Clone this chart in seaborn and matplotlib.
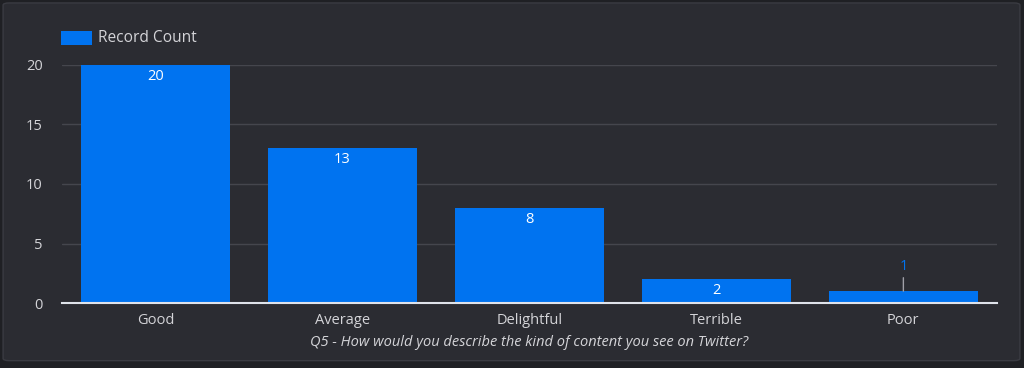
import matplotlib
matplotlib.use("Agg")
import matplotlib.pyplot as plt
from matplotlib.patches import FancyBboxPatch, Rectangle
import seaborn as sns
import pandas as pd

categories = ["Good", "Average", "Delightful", "Terrible", "Poor"]
counts = [20, 13, 8, 2, 1]
yticks = [0, 5, 10, 15, 20]
series_name = "Record Count"
x_title = "Q5 - How would you describe the kind of content you see on Twitter?"

bg_outer = "#1f2024"
bg_panel = "#2b2c32"
bar_color = "#0073f0"
text_color = "#d4d4d8"
grid_color = "#45464d"

sns.set_theme(style="dark")
plt.rcParams["font.family"] = ["Open Sans", "Noto Sans", "DejaVu Sans"]

df = pd.DataFrame({"answer": categories, "count": counts})

fig = plt.figure(figsize=(10.24, 3.68), dpi=100)
fig.patch.set_facecolor(bg_outer)
fig.patches.append(FancyBboxPatch((0.003, 0.02), 0.993, 0.972, boxstyle="round,pad=0,rounding_size=0.006",
                                  transform=fig.transFigure, facecolor=bg_panel,
                                  edgecolor="#3a3b42", linewidth=1, zorder=-1))

ax = fig.add_axes([0.0605, 0.1766, 0.913, 0.6468])
ax.set_facecolor(bg_panel)
sns.barplot(data=df, x="answer", y="count", color=bar_color, width=0.8,
            saturation=1, linewidth=0, ax=ax, zorder=3)

ax.set_ylim(0, 20)
ax.set_xlim(-0.5, len(categories) - 0.5)
ax.set_yticks(yticks)
ax.grid(axis="y", color=grid_color, linewidth=1, zorder=0)
ax.grid(axis="x", visible=False)
for s in ["top", "right", "left"]:
    ax.spines[s].set_visible(False)
ax.spines["bottom"].set_color("#dfe3ea")
ax.spines["bottom"].set_linewidth(1.5)
ax.spines["bottom"].set_zorder(5)
ax.tick_params(axis="both", colors=text_color, labelsize=10.5, length=0)
ax.tick_params(axis="y", pad=14)
ax.tick_params(axis="x", pad=7)
ax.set_ylabel("")
ax.set_xlabel(x_title, color=text_color, fontsize=10.5, style="italic", labelpad=5)

# value labels
for i, v in enumerate(counts):
    if v >= 2:
        ax.annotate(str(v), (i, v), xytext=(0, -3), textcoords="offset points",
                    ha="center", va="top", color="white", fontsize=10.5, zorder=6)
    else:
        ax.annotate(str(v), (i, v), xytext=(0, 12), textcoords="offset points",
                    ha="center", va="bottom", color=bar_color, fontsize=10.5, zorder=6,
                    arrowprops=dict(arrowstyle="-", color="#a0a0a8", lw=1,
                                    shrinkA=0, shrinkB=0))

# legend
fig.patches.append(Rectangle((61 / 1024, 1 - 45 / 368), 31 / 1024, 14 / 368,
                             transform=fig.transFigure, facecolor=bar_color, edgecolor="none"))
fig.text(98 / 1024, 1 - 38 / 368, series_name, color=text_color, fontsize=11.2,
         va="center", ha="left")

fig.savefig("out.png", dpi=100, facecolor=bg_outer)
